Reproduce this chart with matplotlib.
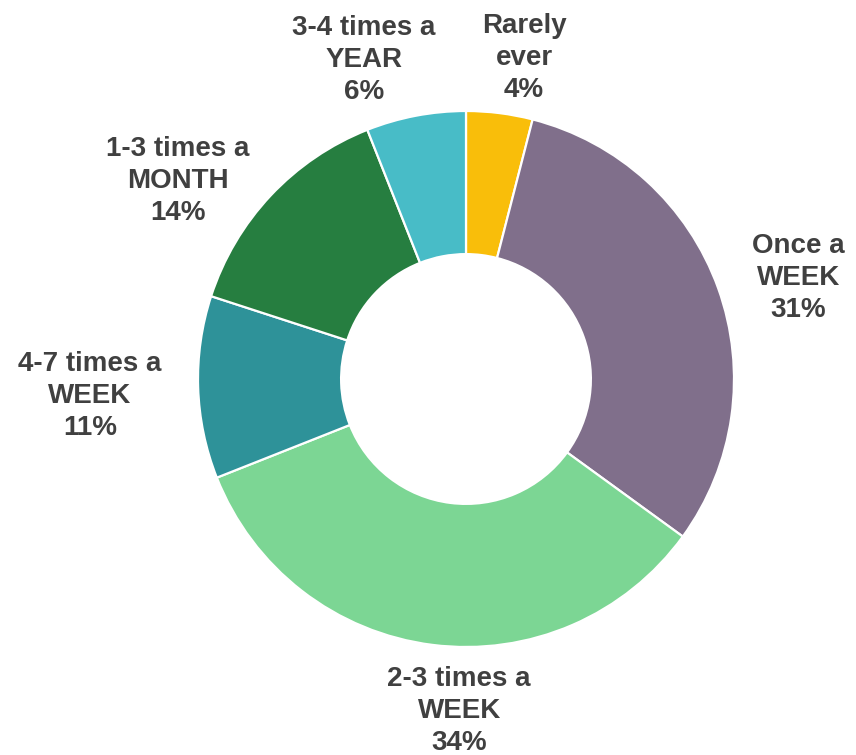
import numpy as np
import matplotlib.pyplot as plt

# ---- data ----
categories = ["Rarely\never", "Once a\nWEEK", "2-3 times a\nWEEK",
              "4-7 times a\nWEEK", "1-3 times a\nMONTH", "3-4 times a\nYEAR"]
shares = [4, 31, 34, 11, 14, 6]
colors = ["#F9BE0A", "#806F8B", "#7CD694", "#2E9299", "#267E40", "#48BCC7"]

# label placement: radial distance (in radii) and angular nudge (deg)
label_dist = [1.237, 1.302, 1.218, 1.404, 1.316, 1.268]
label_nudge = [-2.9, -2.0, 6.0, -0.1, 7.9, 6.7]

fig = plt.figure(figsize=(8.56, 7.55), dpi=100)
ax = fig.add_axes([0, 0, 1, 1])

wedges, _ = ax.pie(shares, colors=colors, startangle=90, counterclock=False,
                   radius=1.0,
                   wedgeprops=dict(width=0.534, edgecolor="white", linewidth=1.6))

total = float(sum(shares))
for w, name, val, d, nudge in zip(wedges, categories, shares, label_dist, label_nudge):
    mid = np.deg2rad((w.theta1 + w.theta2) / 2 + nudge)
    x, y = d * np.cos(mid), d * np.sin(mid)
    ax.text(x, y - 0.02, f"{name}\n{val / total:.0%}", ha="center", va="center",
            fontsize=20, fontweight="bold", color="#404040",
            family="Liberation Sans", linespacing=1.3)

# center the donut at pixel (466, 379) with R = 268 px
px = 268.0
ax.set_xlim(-466 / px, (856 - 466) / px)
ax.set_ylim(-(755 - 379) / px, 379 / px)
ax.set_aspect("equal")
ax.axis("off")

fig.savefig("out.png", dpi=100)
